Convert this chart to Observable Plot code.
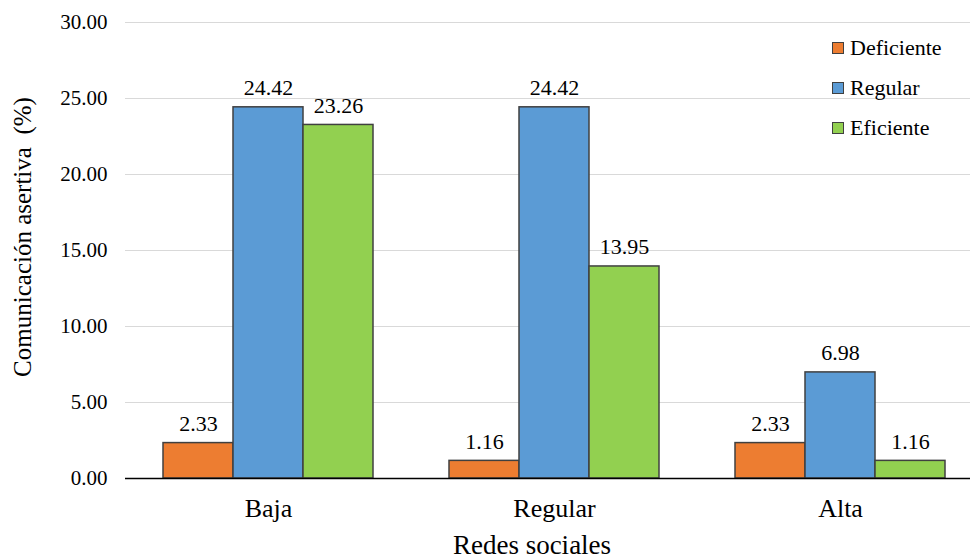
<!DOCTYPE html>
<html>
<head>
<meta charset="utf-8">
<script src="https://cdn.jsdelivr.net/npm/d3@7"></script>
<script src="https://cdn.jsdelivr.net/npm/@observablehq/plot@0.6"></script>
<style>
  html, body { margin: 0; padding: 0; background: #fff; }
</style>
</head>
<body>
<div id="over" style="position:absolute;left:0;top:0;width:970px;height:558px;z-index:9;pointer-events:none;font-family:'Liberation Serif';">
<div id="ytitle" style="font-family:'Liberation Serif';position:absolute;left:22px;top:237px;transform:translate(-50%,-50%) rotate(-90deg);font-size:25px;line-height:1;white-space:pre;">Comunicación asertiva  (%)</div>
<div id="xtitle" style="font-family:'Liberation Serif';position:absolute;left:532px;top:545px;transform:translate(-50%,-50%);font-size:27px;line-height:1;white-space:pre;">Redes sociales</div>
</div>
<div id="wrap" style="position:relative;width:970px;height:558px;overflow:hidden;"></div>
<script>
const grupos = ["Baja", "Regular", "Alta"];
const niveles = ["Deficiente", "Regular", "Eficiente"];
const deficiente = [2.33, 1.16, 2.33];
const regular = [24.42, 24.42, 6.98];
const eficiente = [23.26, 13.95, 1.16];
const colores = ["#ED7D31", "#5B9BD5", "#92D050"];
const yTicks = [0, 5, 10, 15, 20, 25, 30];
const FONT = "'Liberation Serif', serif";
const series = [deficiente, regular, eficiente];
const data = [];
grupos.forEach((g, i) => niveles.forEach((n, j) => data.push({grupo: g, nivel: n, valor: series[j][i]})));
const chart = Plot.plot({
  width: 984, height: 558, marginLeft: 125, marginRight: 1, marginTop: 22, marginBottom: 80,
  style: "font-family: 'Liberation Serif', serif; background: transparent; max-width: none;",
  fx: {domain: grupos, padding: 0, label: null},
  x: {domain: niveles, paddingInner: 0, paddingOuter: 0.53, axis: null},
  y: {domain: [0, 30], ticks: yTicks, label: null},
  color: {domain: niveles, range: colores},
  marks: [
    Plot.gridY(yTicks.filter(t => t > 0), {stroke: "#d9d9d9", strokeOpacity: 1}),
    Plot.axisY(yTicks, {tickSize: 0, tickPadding: 18, fontSize: 21, fontFamily: FONT, tickFormat: d => d.toFixed(2), label: null}),
    Plot.axisFx({anchor: "bottom", tickSize: 0, tickPadding: 20, fontSize: 26, fontFamily: FONT, label: null}),
    Plot.barY(data, {fx: "grupo", x: "nivel", y: "valor", fill: "nivel", stroke: "#404040", strokeWidth: 1.5}),
    Plot.ruleY([0], {stroke: "#000", strokeWidth: 1.5}),
    Plot.text(data, {fx: "grupo", x: "nivel", y: "valor", text: d => d.valor.toFixed(2), lineAnchor: "bottom", dy: -12, fontSize: 22, fontFamily: FONT})
  ]
});
document.getElementById("wrap").appendChild(chart);

const over = document.getElementById("over");
const leg = document.createElement("div");
leg.style.fontFamily = "'Liberation Serif'";
leg.style.position = "absolute"; leg.style.left = "832px"; leg.style.top = "28px"; leg.style.fontSize = "22px";
const colorScale = chart.scale("color");
niveles.forEach(n => {
  const row = document.createElement("div");
  row.style.display = "flex"; row.style.alignItems = "center"; row.style.height = "40px";
  const sw = document.createElement("div");
  sw.style.width = "10px"; sw.style.height = "10px"; sw.style.border = "1.5px solid #404040";
  sw.style.marginRight = "6px"; sw.style.background = colorScale.apply(n);
  const tx = document.createElement("span");
  tx.style.fontFamily = "'Liberation Serif'";
  tx.textContent = n;
  row.appendChild(sw); row.appendChild(tx); leg.appendChild(row);
});
over.appendChild(leg);
</script>
</body>
</html>
